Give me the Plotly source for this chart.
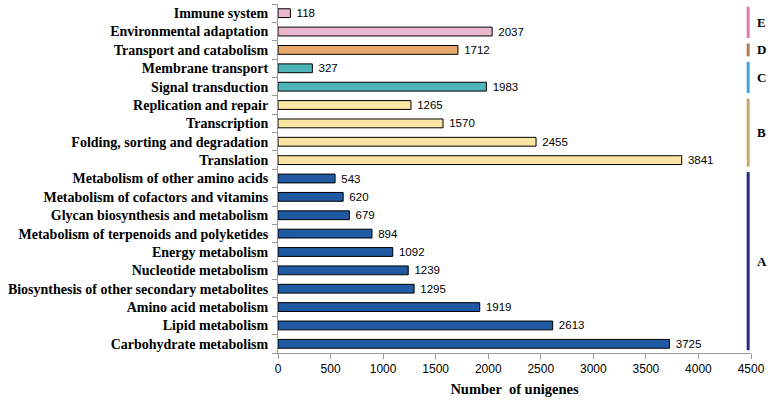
import plotly.graph_objects as go

# categories bottom -> top
categories = [
    "Carbohydrate metabolism", "Lipid metabolism", "Amino acid metabolism",
    "Biosynthesis of other secondary metabolites", "Nucleotide metabolism",
    "Energy metabolism", "Metabolism of terpenoids and polyketides",
    "Glycan biosynthesis and metabolism", "Metabolism of cofactors and vitamins",
    "Metabolism of other amino acids",
    "Translation", "Folding, sorting and degradation", "Transcription",
    "Replication and repair",
    "Signal transduction", "Membrane transport",
    "Transport and catabolism",
    "Environmental adaptation", "Immune system",
]
values = [3725, 2613, 1919, 1295, 1239, 1092, 894, 679, 620, 543,
          3841, 2455, 1570, 1265,
          1983, 327,
          1712,
          2037, 118]

group_names = ["A", "B", "C", "D", "E"]
group_sizes = [10, 4, 2, 1, 2]
bar_colors = ["#1F5AA2", "#FAE6A2", "#4DB4B8", "#E6A86A", "#EAB8CC"]
line_colors = ["#232E86", "#C8A872", "#3DA8DA", "#A87C50", "#E07CB2"]

colors = []
for c, n in zip(bar_colors, group_sizes):
    colors += [c] * n

fig = go.Figure()
fig.add_trace(go.Bar(
    x=values, y=categories, orientation="h",
    marker=dict(color=colors, line=dict(color="black", width=1)),
    width=0.48,
    text=["\u00a0" + str(v) for v in values], textposition="outside",
    constraintext="none",
    textfont=dict(family="Liberation Sans", size=11.5, color="black"),
    cliponaxis=False, showlegend=False,
))

# group brackets on the right
start = 0
for name, n, lc in zip(group_names, group_sizes, line_colors):
    lo, hi = start - 0.35, start + n - 1 + 0.35
    fig.add_shape(type="line", xref="paper", yref="y",
                  x0=0.994, x1=0.994, y0=lo, y1=hi,
                  line=dict(color=lc, width=3))
    fig.add_annotation(xref="paper", yref="y", x=1.008, y=(lo + hi) / 2,
                       text="<b>%s</b>" % name, showarrow=False, xanchor="left",
                       font=dict(family="Liberation Serif", size=13, color="black"))
    start += n

fig.update_xaxes(range=[0, 4500], dtick=500, showgrid=False, zeroline=False,
                 showline=True, linecolor="#999999", ticks="outside",
                 ticklen=5, tickcolor="#999999", automargin=False,
                 tickfont=dict(family="Liberation Sans", size=12, color="black"),
                 title=dict(text="<b>Number  of unigenes</b>", standoff=8,
                            font=dict(family="Liberation Serif", size=14.5, color="black")))
fig.update_yaxes(showgrid=False, showline=True, linecolor="#999999",
                 ticks="outside", tickson="boundaries", ticklen=5, tickcolor="#999999",
                 range=[-0.5, 18.5], automargin=False, ticklabelstandoff=6,
                 tickfont=dict(family="Liberation Serif", size=14, color="black", weight="bold"))

fig.update_layout(width=768, height=401, plot_bgcolor="white", paper_bgcolor="white",
                  margin=dict(l=278, r=17, t=4, b=48), bargap=0.5)

fig.write_html("out.html", config={"displayModeBar": False},
               post_script="document.body.style.margin='0';")
